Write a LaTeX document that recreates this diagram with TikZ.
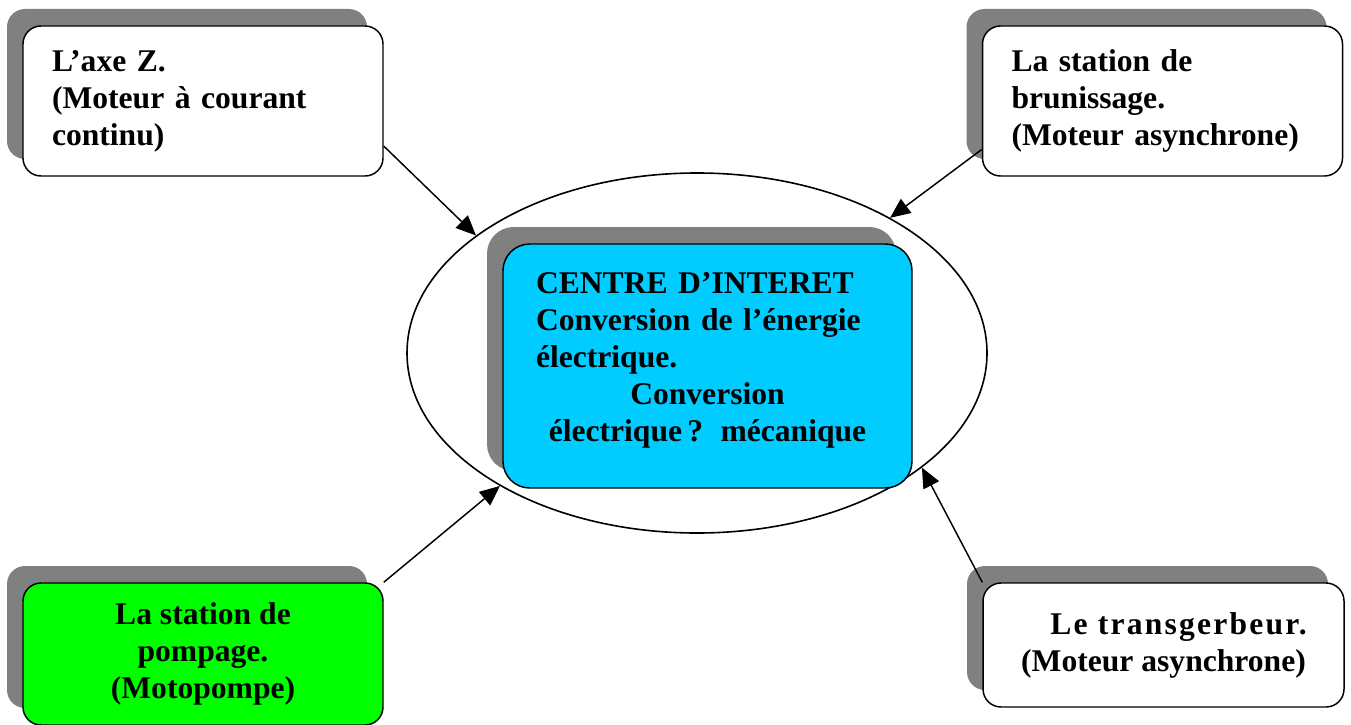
\documentclass[tikz,border=0pt]{standalone}
\usepackage{fontspec}
\setmainfont{Liberation Serif}
\usetikzlibrary{arrows.meta,shapes.geometric,shadows}
\definecolor{shadowgray}{RGB}{128,128,128}
\definecolor{centrecyan}{RGB}{0,204,255}
\definecolor{pompegreen}{RGB}{0,255,0}
\begin{document}
\begin{tikzpicture}[x=0.75pt,y=-0.75pt,
  every node/.style={font=\bfseries\fontsize{23.7pt}{27.75pt}\selectfont},
  boxstyle/.style={draw=black,line width=1.1pt,rounded corners=13.5pt,fill=white,
    general shadow={fill=shadowgray,shadow xshift=-12pt,shadow yshift=12.75pt}},
  leftbox/.style={boxstyle,align=left,inner xsep=21.75pt,inner ysep=0pt,text width=226.5pt},
  midbox/.style={boxstyle,align=center,inner xsep=4pt,inner ysep=0pt},
  link/.style={line width=1.1pt,-{Triangle[length=15pt,width=13pt]}}]
\useasboundingbox (0,0) rectangle (1351,724);

\node[draw=black,line width=1.2pt,ellipse,minimum width=435pt,minimum height=270pt,inner sep=0pt] (ell) at (697,353) {};

\node[leftbox,minimum height=112.5pt] (tl) at (203,101)
  {L’axe Z.\\(Moteur à courant\\continu)};
\node[leftbox,minimum height=112.5pt] (tr) at (1162.5,101)
  {La station de\\brunissage.\\(Moteur asynchrone)};

\node[boxstyle,fill=centrecyan,rounded corners=20pt,align=left,inner xsep=24.75pt,inner ysep=0pt,
  text width=257.25pt,text depth=124pt,minimum height=183pt] (ci) at (707.5,366)
  {CENTRE D’INTERET\\Conversion de l’énergie\\électrique.\par
   \centering Conversion\\électrique\,?\hspace{0.55em}mécanique\par};

\node[midbox,fill=pompegreen,minimum width=270pt,minimum height=106.5pt] (bl) at (203,654)
  {La station de\\pompage.\\(Motopompe)};
\node[midbox,minimum width=270.75pt,minimum height=93pt] (br) at (1163.5,645)
  {\hspace*{22.5pt}{\addfontfeature{LetterSpace=7}Le transgerbeur.}\\(Moteur asynchrone)};

\draw[link] (tl.-14) -- (ell.152);
\draw[link] (tr.195) -- (ell.35);
\draw[link] (bl.north east) -- (ell.214);
\draw[link] (br.north west) -- (ell.-27);
\end{tikzpicture}
\end{document}
